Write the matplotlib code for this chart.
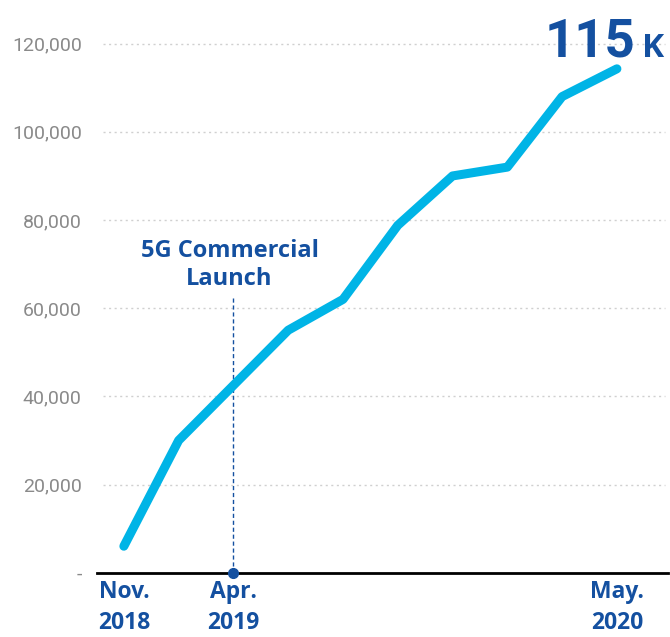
import matplotlib
matplotlib.use("Agg")
import matplotlib.pyplot as plt

# data
points = list(range(10))
subscribers = [6000, 30000, 42500, 55000, 62000, 78800, 90000, 92000, 108000, 114300]
tick_pos = [0, 2, 9]
tick_labels = ["Nov.\n2018", "Apr.\n2019", "May.\n2020"]
yticks = [0, 20000, 40000, 60000, 80000, 100000, 120000]
ytick_labels = ["-", "20,000", "40,000", "60,000", "80,000", "100,000", "120,000"]
launch_idx = 2

blue = "#1450a0"
cyan = "#00b4e6"
gray = "#8a8a8a"

fig = plt.figure(figsize=(6.7, 6.37), dpi=100)
ax = fig.add_axes([0.1448, 0.101, 0.852, 0.883])

for y in yticks[1:]:
    ax.axhline(y, xmin=0.01, xmax=0.995, color="#d0d0d0", lw=1, ls=(0, (1.5, 2.5)), zorder=1)

ax.plot(points, subscribers, color=cyan, lw=6.5, solid_capstyle="round",
        solid_joinstyle="round", zorder=3)

# 5G launch marker
ax.plot([launch_idx, launch_idx], [0, 62500], color=blue, lw=1, ls=(0, (3, 2)), zorder=2)
ax.plot(launch_idx, 0, "o", color=blue, ms=7, clip_on=False, zorder=5)
ax.text(launch_idx - 0.07, 64000, "5G Commercial\nLaunch", ha="center", va="bottom",
        color=blue, fontsize=17, fontweight="bold", family="Open Sans", linespacing=1.2)

# headline value
ax.text(9.33, 117000, "115", ha="right", va="baseline", color=blue, fontsize=38,
        fontweight="bold", family="Roboto")
ax.text(9.45, 117000, "K", ha="left", va="baseline", color=blue, fontsize=24,
        fontweight="bold", family="Open Sans")

ax.set_xlim(-0.49, 9.93)
ax.set_ylim(0, 127600)

ax.set_xticks(tick_pos)
ax.set_xticklabels(tick_labels, color=blue, fontsize=16.5, fontweight="bold",
                   family="Open Sans", linespacing=1.4)
ax.set_yticks(yticks)
ax.set_yticklabels(ytick_labels, color=gray, fontsize=14, family="Roboto")
ax.tick_params(axis="both", length=0)
ax.tick_params(axis="x", pad=5)
ax.tick_params(axis="y", pad=11)

for side in ["top", "right", "left"]:
    ax.spines[side].set_visible(False)
ax.spines["bottom"].set_linewidth(2)
ax.spines["bottom"].set_color("black")

plt.savefig("out.png", dpi=100)
plt.close()
